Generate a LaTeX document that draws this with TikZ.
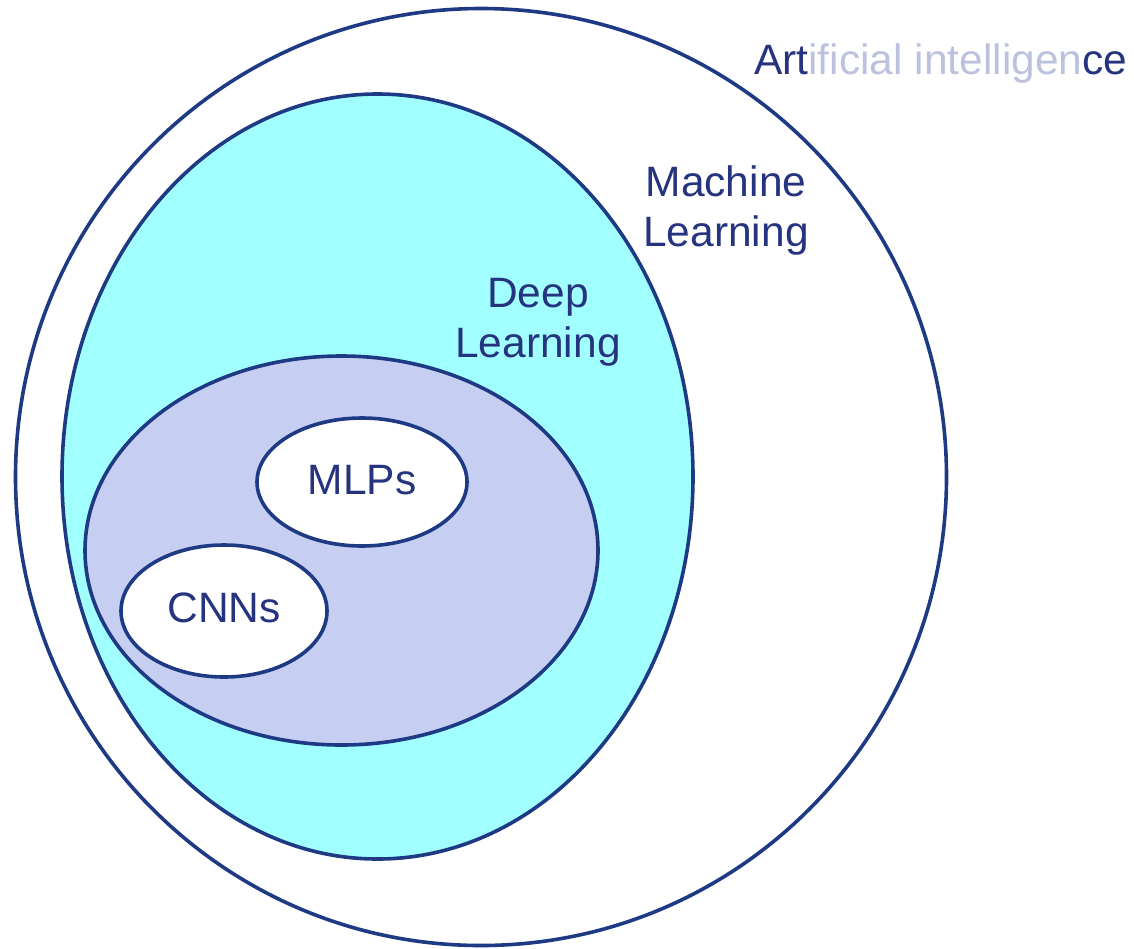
\documentclass[tikz,border=0pt]{standalone}
\usepackage{fontspec}
\setmainfont{Liberation Sans}
\usetikzlibrary{shapes.geometric}
\definecolor{rim}{RGB}{30,58,132}
\definecolor{ink}{RGB}{38,52,128}
\definecolor{pale}{RGB}{188,194,222}
\definecolor{mlfill}{RGB}{162,255,255}
\definecolor{dlfill}{RGB}{198,206,242}
\tikzset{
  set/.style={ellipse, draw=rim, line width=3.6pt, inner sep=0pt, outer sep=0pt},
  lbl/.style={text=ink, font=\fontsize{42.5}{50}\selectfont, align=center, inner sep=0pt}
}
\begin{document}
\begin{tikzpicture}[x=1pt, y=-1pt]
  \useasboundingbox (0,0) rectangle (1134,948);
  % nested sets
  \node[set, fill=white, minimum width=931pt, minimum height=937pt] (ai) at (481,477) {};
  \node[set, fill=mlfill, minimum width=631pt, minimum height=765pt] (ml) at (377.5,476.5) {};
  \node[set, fill=dlfill, minimum width=513pt, minimum height=389pt] (dl) at (341.5,550.5) {};
  \node[set, fill=white, minimum width=210pt, minimum height=128pt] (mlp) at (362,482) {};
  \node[set, fill=white, minimum width=206pt, minimum height=132pt] (cnn) at (224,611) {};
  % labels
  \node[lbl, anchor=base west] (ailbl) at (754,74)
    {Art\textcolor{pale}{ificial intelligen}ce};
  \node[lbl] (mllbl) at (726,211) {Machine\\Learning};
  \node[lbl] (dllbl) at (538,322) {Deep\\Learning};
  \node[lbl, anchor=base] (mlplbl) at (362,494) {MLPs};
  \node[lbl, anchor=base] (cnnlbl) at (224,622) {CNNs};
\end{tikzpicture}
\end{document}
